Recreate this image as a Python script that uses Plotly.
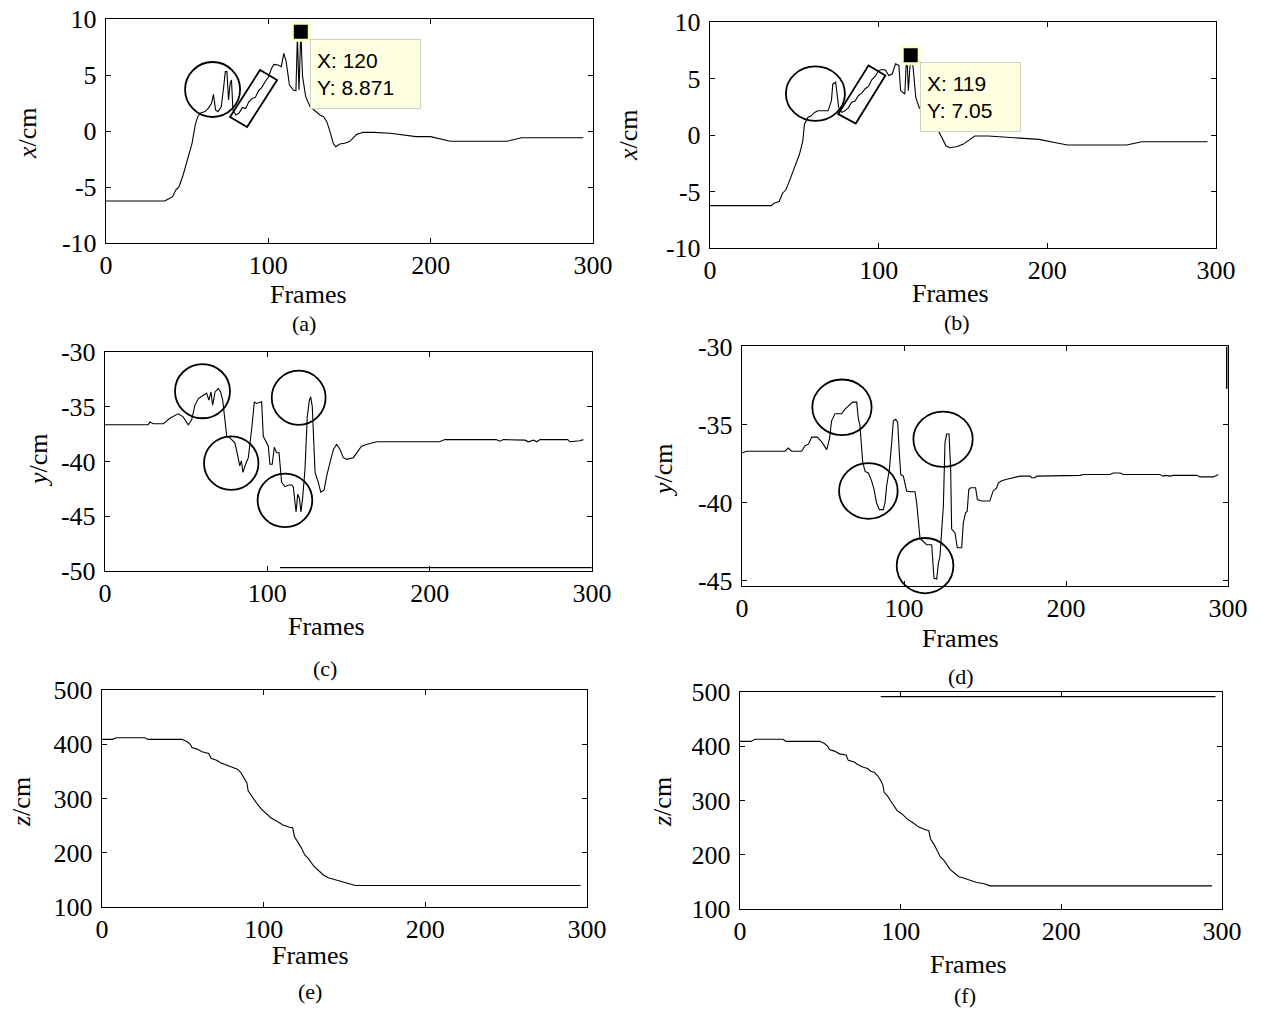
import plotly.graph_objects as go

W, H = 1267, 1011
SERIF = "Liberation Serif"
SANS = "Liberation Sans"

# ---------------- data ----------------
frames_tick_vals = [0, 100, 200, 300]

# (a) x coordinate, method A
a_frames = [0, 36, 38.5, 41, 43, 45, 47.5, 49, 51, 53, 55, 56.5, 58, 61, 63, 65, 66.2, 67.5, 69, 71,
            72.5, 73.5, 74.5, 75.5, 76.5, 77.3, 78.2, 80, 82, 84, 86, 88, 90, 92, 94, 96, 98, 100, 102,
            103.5, 106, 108, 109.5, 111, 113, 115.5, 117, 117.9, 118.9, 120, 121.1, 123, 125.7, 128,
            131.8, 134, 136, 138, 140, 141.5, 144, 147, 150, 152, 154.4, 158.5, 165, 175, 183, 191,
            200, 212, 230, 247, 256, 294]
a_x_cm = [-6.25, -6.25, -6.07, -5.86, -5.27, -4.97, -3.93, -3.18, -2.14, -1.1, 0.54, 1.28, 1.58, 1.73,
          2.02, 2.47, 3.27, 1.88, 1.73, 2.17, 3.96, 5.3, 5.3, 2.77, 4.26, 4.55, 1.88, 1.43, 1.6, 2.1,
          2.0, 2.6, 2.9, 3.0, 3.6, 3.9, 4.4, 4.8, 5.6, 5.95, 5.9, 5.74, 6.93, 6.2, 4.1, 3.66, 3.6,
          8.42, 3.66, 8.871, 4.85, 3.07, 2.17, 1.88, 1.43, 1.28, 0.83, -0.06, -1.1, -1.4, -1.16,
          -1.1, -0.95, -0.65, -0.3, -0.12, -0.12, -0.2, -0.36, -0.5, -0.5, -0.92, -0.92, -0.92,
          -0.6, -0.6]

# (b) x coordinate, method B
b_frames = [0, 36.4, 38, 41, 43, 45, 47, 49, 51, 53, 55, 56, 58, 60, 62, 64, 67, 70, 72, 72.8, 74.5,
            75.5, 76.3, 78, 80, 82, 84, 86, 88, 90, 92, 94, 96, 98, 100, 102, 104, 106, 108, 110, 112,
            113, 115.5, 116.3, 117, 117.6, 119, 120.4, 122, 124, 127, 130, 134, 136, 138, 140, 142,
            146, 150, 153, 157, 165, 180, 195, 205, 212, 247, 256, 295]
b_x_cm = [-6.25, -6.25, -6.04, -5.89, -5.15, -4.85, -4.1, -3.36, -2.62, -1.73, -0.54, 0.95, 1.55,
          1.7, 2.0, 2.14, 2.14, 2.14, 3.04, 4.52, 4.67, 3.63, 2.44, 2.0, 2.14, 2.4, 2.9, 3.0, 3.5,
          3.7, 4.1, 4.3, 4.9, 5.2, 5.7, 5.8, 5.75, 5.27, 5.4, 6.3, 6.16, 3.93, 3.63, 6.16, 6.16,
          3.93, 7.05, 6.0, 3.33, 2.44, 1.85, 1.4, 0.8, 0.2, -0.39, -0.98, -1.13, -1.04, -0.83,
          -0.48, -0.09, -0.09, -0.24, -0.39, -0.68, -0.89, -0.89, -0.6, -0.6]

# (c) y coordinate, method A
c_frames = [0, 26.6, 27.7, 29.7, 36, 40, 45, 48, 51.3, 53.4, 55.4, 57.5, 60.6, 62.6, 64, 65.3, 66.3,
            67.8, 69.8, 71.2, 72.5, 74, 75, 77, 80, 82, 83, 84, 85, 86.7, 88.3, 90.3, 92, 93.4, 95.5,
            96.5, 97.5, 99.6, 100.6, 101.6, 103, 104.3, 105.7, 107.2, 108.8, 110.9, 113, 115, 116,
            117, 117.7, 118.7, 119.7, 120.7, 121.8, 123.2, 124.6, 125.9, 126.7, 127.7, 129.4, 131.4,
            132.9, 135, 136.6, 138.6, 140.7, 142.7, 144.8, 146.8, 148.9, 153, 155, 158, 161, 164,
            167.4, 206, 209.4, 241, 243, 245.5, 258.8, 260.8, 264, 266, 268, 285, 286.4, 292.5, 294.7]
c_y_cm = [-36.65, -36.65, -36.4, -36.55, -36.55, -36.05, -35.65, -35.9, -36.65, -36.2, -34.85, -34.25,
          -33.95, -33.75, -34.4, -33.65, -34.85, -33.65, -33.35, -33.65, -34.4, -36.8, -37.7, -37.85,
          -38.3, -39.65, -40.4, -39.95, -41.0, -40.2, -39.65, -37.1, -34.55, -34.7, -34.55, -34.55,
          -37.7, -38.3, -38.6, -40.25, -40.25, -38.7, -39.2, -39.2, -41.9, -42.3, -42.15, -42.15,
          -42.3, -43.7, -44.6, -43.0, -43.3, -44.6, -43.25, -40.7, -35.9, -34.4, -34.1, -35.0, -41.0,
          -41.9, -42.8, -42.6, -41.3, -40.1, -38.9, -38.45, -38.9, -39.65, -39.8, -39.65, -39.2,
          -38.6, -38.45, -38.3, -38.2, -38.2, -38.0, -38.0, -38.15, -38.0, -38.05, -38.2, -38.05,
          -38.2, -38.0, -38.0, -38.2, -38.1, -38.0]

# (d) y coordinate, method B
d_frames = [0, 3, 26.5, 28.6, 30.6, 36.8, 38.9, 41, 43, 46.5, 49.2, 52.3, 54, 55.3, 57.4, 61.5, 63.6,
            66.7, 68.3, 70.8, 71.8, 72.8, 74.5, 76, 78, 80, 81.5, 83, 84.8, 87.2, 88.3, 89.3, 91, 92.4,
            93.4, 94.9, 96.1, 97.1, 98, 99.6, 101.6, 103.7, 106.8, 107.8, 109.9, 114, 117.1, 118.5,
            120.2, 121.2, 122.2, 124.3, 125.3, 126.3, 127.8, 128.8, 129.4, 131.5, 132.9, 135.6, 136.6,
            138, 139, 140, 141.2, 144.2, 145.3, 148, 153, 155, 157.2, 158.2, 160.3, 163.4, 167.5,
            171.6, 177.8, 178.8, 180.9, 181.9, 208.6, 210.7, 227.2, 229.2, 233.3, 235.4, 257.9, 260,
            262, 264.2, 266.3, 280.7, 282.7, 291, 294]
d_y_cm = [-36.8, -36.7, -36.7, -36.5, -36.7, -36.7, -36.35, -36.25, -35.8, -35.8, -36.1, -36.6, -35.9,
          -34.75, -34.3, -34.3, -34.0, -33.7, -33.55, -33.55, -34.6, -35.05, -37.4, -38.0, -38.1,
          -38.6, -39.15, -40.0, -40.45, -40.45, -40.0, -38.9, -37.85, -36.15, -34.75, -34.65, -34.85,
          -36.8, -38.2, -38.3, -39.25, -39.3, -39.3, -40.0, -42.3, -42.7, -42.7, -44.85, -44.9, -43.9,
          -43.45, -40.2, -36.15, -35.6, -35.6, -37.85, -41.7, -41.95, -42.9, -42.9, -41.3, -40.65,
          -40.55, -39.15, -39.05, -39.05, -39.8, -39.9, -39.9, -39.25, -39.05, -38.75, -38.6, -38.5,
          -38.4, -38.3, -38.3, -38.4, -38.4, -38.3, -38.25, -38.2, -38.2, -38.1, -38.1, -38.2, -38.2,
          -38.3, -38.25, -38.3, -38.25, -38.25, -38.35, -38.35, -38.2]

# (e) z coordinate, method A
e_frames = [0, 6.6, 8.75, 26.5, 28.5, 49.4, 52.5, 54.6, 55.6, 58.75, 61.9, 66, 67.5, 71.25, 73.3, 76.5,
            79.6, 81.7, 83.75, 85.8, 87.9, 89.6, 90.4, 92, 94.2, 96.25, 98.75, 101.5, 104.6, 107.7,
            111.9, 116, 118, 119, 121, 123.3, 125.4, 127.5, 129.6, 131.7, 134.8, 136.9, 140, 144.2,
            148.3, 152.5, 156.7, 296]
e_z_cm = [409, 409, 412, 412, 409, 409, 405, 400, 394, 391, 386, 383, 374, 370, 366, 362, 359, 356, 354,
          348, 338, 329, 314, 307, 298, 289, 280, 273, 264, 259, 251, 247, 246, 230, 221, 209, 196,
          190, 181, 173, 165, 159, 154, 150, 147, 143, 139.5, 139.5]

# (f) z coordinate, method B
f_frames = [0, 6.8, 9.3, 26.8, 28.5, 49.5, 52.6, 54.6, 55.7, 58.8, 61.9, 66, 67.4, 71.1, 73.2, 76.3,
            79.4, 81.4, 83.5, 85.6, 87.6, 89, 89.7, 91.8, 93.8, 95.9, 97.9, 101, 104, 107.2, 111.3,
            115.5, 117.5, 118.6, 120.6, 122.7, 124.7, 126.8, 128.9, 130.9, 134, 136, 139, 143.3,
            147.4, 151.5, 155.7, 293.8]
f_z_cm = [409, 409, 413, 413, 409, 409, 405, 400, 394, 391, 386, 384, 374, 371, 366.5, 361.6, 359, 354,
          352, 346, 337, 328, 315, 308.5, 299, 290, 281, 275, 266, 260, 251, 246, 244.5, 229, 220,
          208, 196, 190, 180.5, 172.6, 165, 160, 157, 153, 149, 147, 142.7, 142.7]

# data tips
tip_a = (120, 8.871)
tip_b = (119, 7.05)

# highlight circles (x0, x1, y0, y1) in data units
circles_a = [(48.7, 82.6, 1.25, 6.16)]
circles_b = [(45, 80, 1.25, 6.07)]
circles_c = [(43.1, 77, -36.05, -31.1), (61, 94.5, -42.6, -37.7),
             (102.7, 135.9, -36.65, -31.7), (94, 127.7, -46.0, -41.1)]
circles_d = [(43.4, 80, -35.67, -32.1), (59.9, 96.1, -41.04, -37.47),
             (105.8, 142.4, -37.71, -34.16), (95.5, 130.5, -45.82, -42.27)]
rect_a = [(76.4, 1.25), (94.9, 5.45), (105.4, 4.55), (86.9, 0.36)]
rect_b = [(76.0, 1.85), (94.0, 6.16), (104.0, 5.27), (86.4, 1.01)]

# ---------------- layout of the six panels (pixels) ----------------
panels = [
    dict(frames=a_frames, vals=a_x_cm, xpx=(106, 593), ypx=(19, 243), yr=[-10, 10],
         yt=[-10, -5, 0, 5, 10], ytitle="<i>x</i>/cm", ytpos=(27, 133), fpos=(308, 294),
         lpos=(304, 324), label="(a)"),
    dict(frames=b_frames, vals=b_x_cm, xpx=(710, 1216), ypx=(22, 248), yr=[-10, 10],
         yt=[-10, -5, 0, 5, 10], ytitle="<i>x</i>/cm", ytpos=(628, 135), fpos=(950, 293),
         lpos=(957, 323), label="(b)"),
    dict(frames=c_frames, vals=c_y_cm, xpx=(105, 592), ypx=(352, 571), yr=[-50, -30],
         yt=[-50, -45, -40, -35, -30], ytitle="<i>y</i>/cm", ytpos=(38, 460), fpos=(326, 626),
         lpos=(325, 668), label="(c)"),
    dict(frames=d_frames, vals=d_y_cm, xpx=(742, 1228), ypx=(346, 586), yr=[-45.35, -29.95],
         yt=[-45, -40, -35, -30], ytitle="<i>y</i>/cm", ytpos=(663, 470), fpos=(960, 638),
         lpos=(961, 676), label="(d)"),
    dict(frames=e_frames, vals=e_z_cm, xpx=(102, 587), ypx=(690, 907), yr=[100, 500],
         yt=[100, 200, 300, 400, 500], ytitle="<i>z</i>/cm", ytpos=(21, 802), fpos=(310, 955),
         lpos=(310, 991), label="(e)"),
    dict(frames=f_frames, vals=f_z_cm, xpx=(740, 1222), ypx=(692, 909), yr=[100, 500],
         yt=[100, 200, 300, 400, 500], ytitle="<i>z</i>/cm", ytpos=(662, 802), fpos=(968, 964),
         lpos=(965, 995), label="(f)"),
]

fig = go.Figure()
annotations = []
shapes = []
layout_axes = {}

tickfont = dict(family=SERIF, size=26, color="black")

for i, p in enumerate(panels, start=1):
    sx = "" if i == 1 else str(i)
    xid, yid = "x" + sx, "y" + sx
    fig.add_trace(go.Scatter(x=p["frames"], y=p["vals"], mode="lines",
                             line=dict(color="black", width=1.1),
                             xaxis=xid, yaxis=yid, showlegend=False, hoverinfo="skip"))
    layout_axes["xaxis" + sx] = dict(
        domain=[p["xpx"][0] / W, p["xpx"][1] / W], range=[0, 300], tickvals=frames_tick_vals,
        ticktext=[str(v) for v in frames_tick_vals],
        anchor=yid, ticks="inside", ticklen=5, tickwidth=1.2, tickcolor="black",
        mirror="ticks", showline=True, linecolor="black", linewidth=1.4,
        showgrid=False, zeroline=False, tickfont=tickfont, ticklabelstandoff=-1,
        fixedrange=True, automargin=False)
    layout_axes["yaxis" + sx] = dict(
        domain=[1 - p["ypx"][1] / H, 1 - p["ypx"][0] / H], range=p["yr"], tickvals=p["yt"],
        ticktext=[str(v) for v in p["yt"]],
        anchor=xid, ticks="inside", ticklen=5, tickwidth=1.2, tickcolor="black",
        mirror="ticks", showline=True, linecolor="black", linewidth=1.4,
        showgrid=False, zeroline=False, tickfont=tickfont, ticklabelstandoff=3,
        fixedrange=True, automargin=False)
    annotations.append(dict(text=p["ytitle"], x=p["ytpos"][0] / W, y=1 - p["ytpos"][1] / H,
                            xref="paper", yref="paper", showarrow=False, textangle=-90,
                            font=dict(family=SERIF, size=26, color="black"),
                            xanchor="center", yanchor="middle"))
    annotations.append(dict(text="Frames", x=p["fpos"][0] / W, y=1 - p["fpos"][1] / H,
                            xref="paper", yref="paper", showarrow=False,
                            font=dict(family=SERIF, size=26, color="black"),
                            xanchor="center", yanchor="middle"))
    annotations.append(dict(text=p["label"], x=p["lpos"][0] / W, y=1 - p["lpos"][1] / H,
                            xref="paper", yref="paper", showarrow=False,
                            font=dict(family=SERIF, size=22, color="black"),
                            xanchor="center", yanchor="middle"))


def to_paper(panel, xv, yv):
    x0, x1 = panel["xpx"]
    y0, y1 = panel["ypx"]
    r0, r1 = panel["yr"]
    px = x0 + (xv - 0) / 300 * (x1 - x0)
    py = y1 - (yv - r0) / (r1 - r0) * (y1 - y0)
    return px / W, 1 - py / H


def add_circles(idx, circles, panel):
    sx = "" if idx == 1 else str(idx)
    for (cx0, cx1, cy0, cy1) in circles:
        if cy0 < panel["yr"][0]:
            px0, py0 = to_paper(panel, cx0, cy0)
            px1, py1 = to_paper(panel, cx1, cy1)
            shapes.append(dict(type="circle", xref="paper", yref="paper", x0=px0, x1=px1,
                               y0=py0, y1=py1, line=dict(color="black", width=1.8)))
        else:
            shapes.append(dict(type="circle", xref="x" + sx, yref="y" + sx, x0=cx0, x1=cx1,
                               y0=cy0, y1=cy1, line=dict(color="black", width=1.8)))


add_circles(1, circles_a, panels[0])
add_circles(2, circles_b, panels[1])
add_circles(3, circles_c, panels[2])
add_circles(4, circles_d, panels[3])

for idx, rect in ((1, rect_a), (2, rect_b)):
    sx = "" if idx == 1 else str(idx)
    path = "M " + " L ".join(f"{x},{y}" for x, y in rect) + " Z"
    shapes.append(dict(type="path", path=path, xref="x" + sx, yref="y" + sx,
                       line=dict(color="black", width=1.8)))

# stray lines visible in the reference
shapes.append(dict(type="line", xref="x3", yref="y3", x0=107.8, x1=299.8, y0=-49.7, y1=-49.7,
                   line=dict(color="black", width=1.2)))
shapes.append(dict(type="line", xref="x6", yref="y6", x0=87.6, x1=296, y0=491.5, y1=491.5,
                   line=dict(color="black", width=1.2)))
shapes.append(dict(type="line", xref="x4", yref="y4", x0=299.2, x1=299.2, y0=-30.0, y1=-32.7,
                   line=dict(color="black", width=1.5)))

# data tips (box widths follow the reference)
tip_box_width = {1: 97, 2: 87}
for idx, tip in ((1, tip_a), (2, tip_b)):
    sx = "" if idx == 1 else str(idx)
    fig.add_trace(go.Scatter(x=[tip[0]], y=[tip[1]], mode="markers", cliponaxis=False,
                             marker=dict(symbol="square", size=17, color="black",
                                         line=dict(color="#FFFFC8", width=3)),
                             xaxis="x" + sx, yaxis="y" + sx, showlegend=False, hoverinfo="skip"))
    ytxt = f"{tip[1]:g}"
    annotations.append(dict(text=f"X: {tip[0]}<br>Y: {ytxt}", x=tip[0], y=tip[1],
                            xref="x" + sx, yref="y" + sx, showarrow=False,
                            xanchor="left", yanchor="top", xshift=9, yshift=-7,
                            align="left", bgcolor="#FFFFE1", bordercolor="#D0D0C0",
                            borderwidth=1, borderpad=6, width=tip_box_width[idx], height=56,
                            font=dict(family=SANS, size=21, color="black")))

fig.update_layout(width=W, height=H,
                  margin=dict(l=0, r=0, t=0, b=0, pad=0, autoexpand=False),
                  paper_bgcolor="white", plot_bgcolor="white",
                  annotations=annotations, shapes=shapes, **layout_axes)

fig.write_html("out.html", config={"displayModeBar": False},
               post_script="document.body.style.margin='0';document.body.style.overflow='hidden';")
